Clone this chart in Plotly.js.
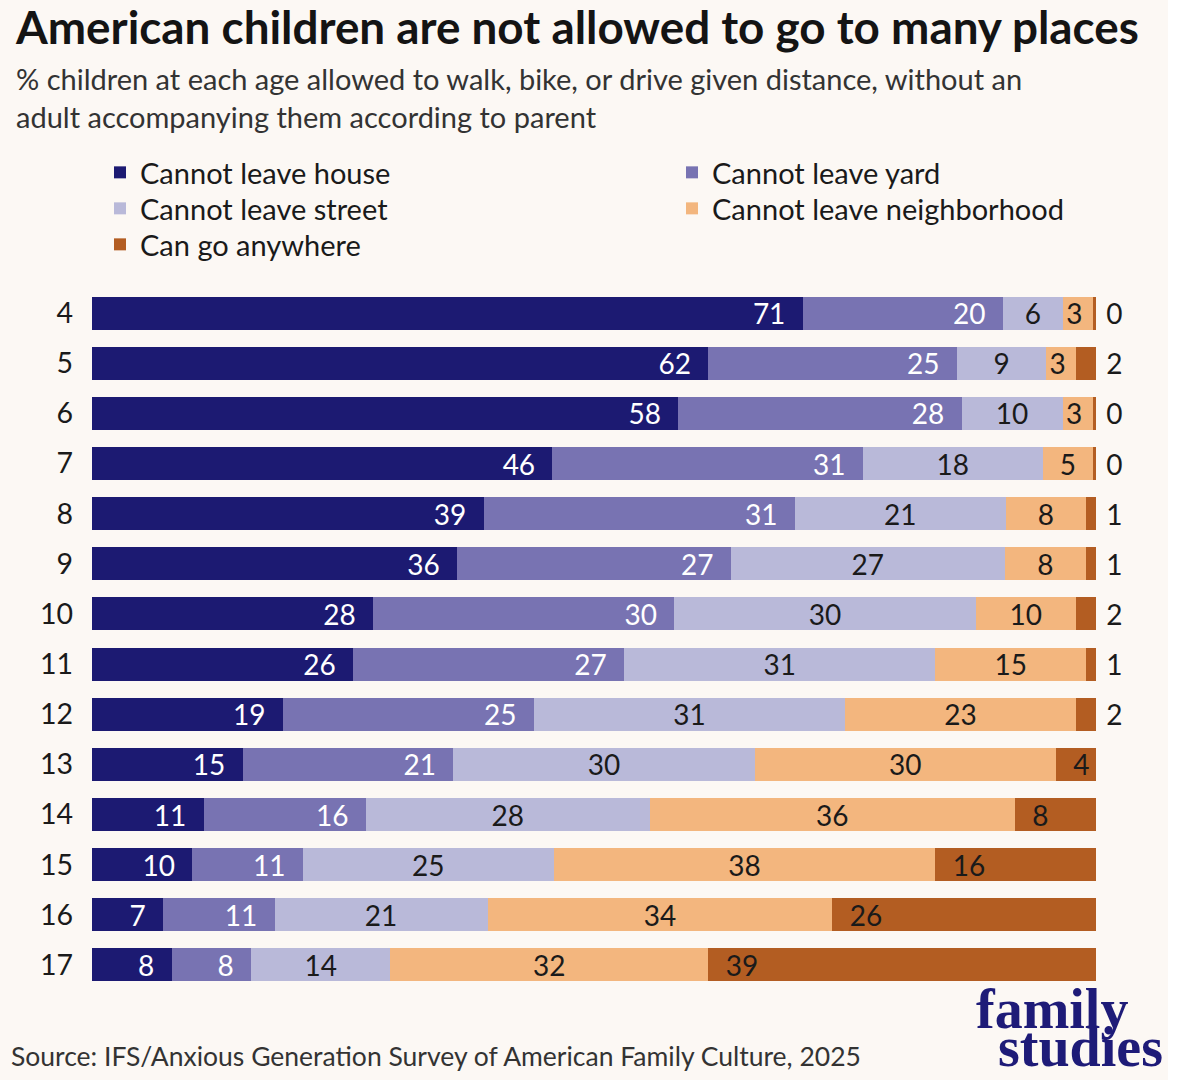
<!DOCTYPE html>
<html>
<head>
<meta charset="utf-8">
<script src="https://cdn.plot.ly/plotly-3.0.1.min.js"></script>
<style>
  html, body { margin: 0; padding: 0; background: #ffffff; }
  #chart { position: absolute; left: 0; top: 0; width: 1168px; height: 1080px; }
</style>
</head>
<body>
<div id="chart"></div>
<script>
// ---- Data ----
const ages = ['4','5','6','7','8','9','10','11','12','13','14','15','16','17'];
const cannotLeaveHouse = [71, 62, 58, 46, 39, 36, 28, 26, 19, 15, 11, 10, 7, 8];
const cannotLeaveYard = [20, 25, 28, 31, 31, 27, 30, 27, 25, 21, 16, 11, 11, 8];
const cannotLeaveStreet = [6, 9, 10, 18, 21, 27, 30, 31, 31, 30, 28, 25, 21, 14];
const cannotLeaveNeighborhood = [3, 3, 3, 5, 8, 8, 10, 15, 23, 30, 36, 38, 34, 32];
const canGoAnywhere = [0.3, 2, 0.3, 0.3, 1, 1, 2, 1, 2, 4, 8, 16, 26, 39];
const seriesNames = ['Cannot leave house', 'Cannot leave yard', 'Cannot leave street',
                     'Cannot leave neighborhood', 'Can go anywhere'];

// ---- Styling ----
const colors = ['#1c1a72', '#7873b2', '#b9b9d9', '#f3b67e', '#b35d22'];
const W = 1168, H = 1080;
const M = {l: 92, r: 72, t: 288, b: 90};
const PW = W - M.l - M.r, PH = H - M.t - M.b;
const px = x => (x - M.l) / PW;
const py = y => 1 - (y - M.t) / PH;
const NB = '\u00a0';
const FONT = 'Lato, "Open Sans", sans-serif';
const LBL = 28;
const round = v => String(Math.round(v));
const legendIds = ['legend', 'legend2', 'legend3', 'legend4', 'legend5'];

// each row is drawn as shares of its own total (bars span the full width)
const allSeries = [cannotLeaveHouse, cannotLeaveYard, cannotLeaveStreet,
                   cannotLeaveNeighborhood, canGoAnywhere];
const rowTotals = ages.map((_, k) => allSeries.reduce((s, arr) => s + arr[k], 0));
const share = arr => arr.map((v, k) => v / rowTotals[k] * 100);

function trace(i, vals, opts) {
  return Object.assign({
    type: 'bar', orientation: 'h', name: seriesNames[i],
    y: ages, x: share(vals),
    marker: {color: colors[i], line: {width: 0}},
    textfont: {family: FONT, size: LBL},
    textangle: 0, constraintext: 'none',
    cliponaxis: false,
    hoverinfo: 'name+text',
    legend: legendIds[i]
  }, opts);
}

const lastInside = canGoAnywhere.map(v => Math.round(v) >= 4);

const data = [
  trace(0, cannotLeaveHouse, {
    text: cannotLeaveHouse.map(v => round(v) + NB + NB),
    textposition: 'inside', insidetextanchor: 'end',
    insidetextfont: {family: FONT, size: LBL, color: '#ffffff'}
  }),
  trace(1, cannotLeaveYard, {
    text: cannotLeaveYard.map(v => round(v) + NB + NB),
    textposition: 'inside', insidetextanchor: 'end',
    insidetextfont: {family: FONT, size: LBL, color: '#ffffff'}
  }),
  trace(2, cannotLeaveStreet, {
    text: cannotLeaveStreet.map(round),
    textposition: 'inside', insidetextanchor: 'middle',
    insidetextfont: {family: FONT, size: LBL, color: '#1a1a1a'}
  }),
  trace(3, cannotLeaveNeighborhood, {
    text: cannotLeaveNeighborhood.map(v => Math.round(v) < 5 ? round(v) + NB : round(v)),
    textposition: 'inside', insidetextanchor: 'middle',
    insidetextfont: {family: FONT, size: LBL, color: '#1a1a1a'}
  }),
  trace(4, canGoAnywhere, {
    text: canGoAnywhere.map((v, k) => lastInside[k] ? NB + NB + round(v) : NB + round(v)),
    textposition: lastInside.map(b => b ? 'inside' : 'outside'),
    insidetextanchor: 'start',
    insidetextfont: {family: FONT, size: LBL, color: '#1a1a1a'},
    outsidetextfont: {family: FONT, size: LBL, color: '#1a1a1a'}
  })
];

// legend positions (item centres in px) to mimic the two-column key
const legendPos = [[100, 174], [672, 174], [100, 210], [672, 210], [100, 246]];
function legendAt(p) {
  return {
    orientation: 'v', traceorder: 'normal',
    x: px(p[0]), xanchor: 'left', y: py(p[1] - 27), yanchor: 'top',
    bgcolor: 'rgba(0,0,0,0)', borderwidth: 0,
    font: {family: FONT, size: 29, color: '#1a1a1a'}
  };
}

const layout = {
  width: W, height: H,
  margin: M,
  paper_bgcolor: '#fcf8f4', plot_bgcolor: '#fcf8f4',
  font: {family: FONT, color: '#1a1a1a'},
  barmode: 'stack', bargap: 0.34,
  title: {
    text: 'American children are not allowed to go to many places',
    font: {family: FONT, size: 45.8, weight: 700, color: '#141414'},
    xref: 'container', x: 16 / W, xanchor: 'left',
    yref: 'container', y: 1 - 27.5 / H, yanchor: 'middle'
  },
  xaxis: {range: [0, 100.001], visible: false, fixedrange: true},
  yaxis: {
    type: 'category', autorange: 'reversed',
    showgrid: false, zeroline: false, showline: false, ticks: '',
    ticklabelstandoff: 18,
    tickfont: {family: FONT, size: 28.5, color: '#1a1a1a'}
  },
  showlegend: true,
  annotations: [
    {
      text: '% children at each age allowed to walk, bike, or drive given distance, without an<br>adult accompanying them according to parent',
      xref: 'paper', yref: 'paper', x: px(14), y: py(98),
      xanchor: 'left', yanchor: 'middle', align: 'left', showarrow: false,
      font: {family: FONT, size: 29, color: '#333333'}
    },
    {
      text: 'Source: IFS/Anxious Generation Survey of American Family Culture, 2025',
      xref: 'paper', yref: 'paper', x: px(9), y: py(1056),
      xanchor: 'left', yanchor: 'middle', align: 'left', showarrow: false,
      font: {family: FONT, size: 26.5, color: '#333333'}
    },
    {
      text: '<b>family</b>',
      xref: 'paper', yref: 'paper', x: px(974), y: py(1042),
      xanchor: 'left', yanchor: 'bottom', showarrow: false,
      font: {family: '"Liberation Serif", serif', size: 56, color: '#1e1b78'}
    },
    {
      text: '<b>studies</b>',
      xref: 'paper', yref: 'paper', x: px(996), y: py(1080),
      xanchor: 'left', yanchor: 'bottom', showarrow: false,
      font: {family: '"Liberation Serif", serif', size: 56, color: '#1e1b78'}
    }
  ]
};
legendIds.forEach((id, i) => { layout[id] = legendAt(legendPos[i]); });

Plotly.newPlot('chart', data, layout, {displayModeBar: false, staticPlot: true});
</script>
</body>
</html>
